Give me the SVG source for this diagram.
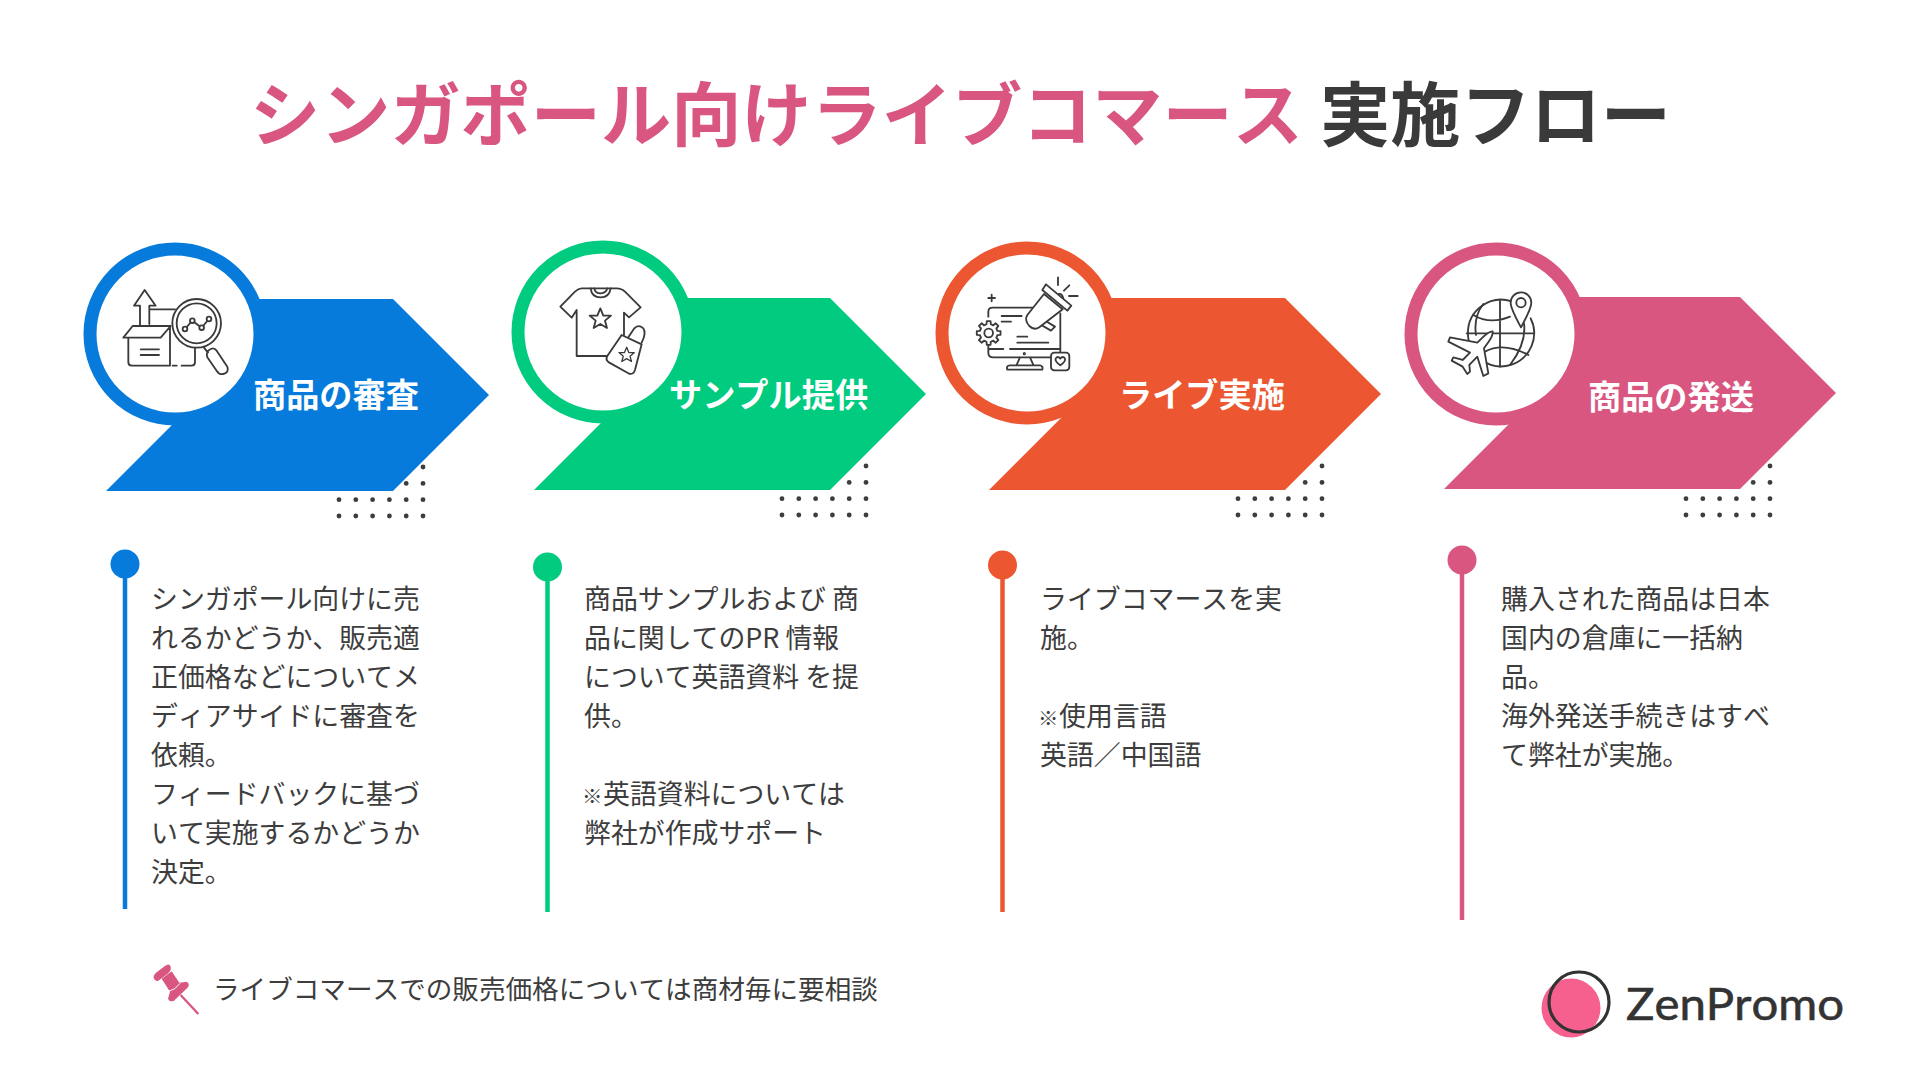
<svg xmlns="http://www.w3.org/2000/svg" width="1920" height="1080" viewBox="0 0 1920 1080">
<style>
text{font-family:"Noto Sans CJK JP","Noto Sans",sans-serif;font-kerning:none}
.t{font-size:70.2px;font-weight:700}
.l{font-size:33.2px;font-weight:700;fill:#fff}
.b{font-size:26.9px;fill:#3d3d3d}
.m{font-size:20.5px;font-weight:700}
.ic{fill:none;stroke:#3a3a3a;stroke-width:5.5;stroke-linecap:round;stroke-linejoin:round}
.ring{fill:#fff;stroke-width:13}
.ln{stroke-width:4.5}
</style>
<defs>
<g id="dots" fill="#3d3d3d">
<circle cx="84" cy="0" r="2.4"/><circle cx="67.2" cy="16.4" r="2.4"/><circle cx="84" cy="16.4" r="2.4"/>
<circle cx="0" cy="32.7" r="2.4"/><circle cx="16.8" cy="32.7" r="2.4"/><circle cx="33.6" cy="32.7" r="2.4"/><circle cx="50.4" cy="32.7" r="2.4"/><circle cx="67.2" cy="32.7" r="2.4"/><circle cx="84" cy="32.7" r="2.4"/>
<circle cx="0" cy="49" r="2.4"/><circle cx="16.8" cy="49" r="2.4"/><circle cx="33.6" cy="49" r="2.4"/><circle cx="50.4" cy="49" r="2.4"/><circle cx="67.2" cy="49" r="2.4"/><circle cx="84" cy="49" r="2.4"/>
</g>
<polygon id="star" points="0,-32 9,-10 32,-10 14,5 20,27 0,15 -20,27 -14,5 -32,-10 -9,-10"/>
</defs>
<rect width="1920" height="1080" fill="#fff"/>
<g id="title">
<text class="t" x="250" y="141" fill="#d95680">シンガポール向けライブコマース</text>
<text class="t" x="1320" y="141" fill="#3a3a3a">実施フロー</text>
</g>

<g id="step1">
<use href="#dots" x="339" y="467"/>
<polygon points="106,491 202,395 230,299 393,299 489,395 393,491" fill="#067bdb"/>
<circle class="ring" cx="175" cy="334" r="85" stroke="#067bdb"/>
<g class="ic" transform="translate(60 220) scale(.3333)">
<path d="M205 355V427Q205 437 215 437H330V323M338 437H350M365 437H395Q405 437 405 427V385M190 353L218 318H332L302 353ZM242 388H297M242 405H297"/>
<path d="M240 316V257H222L254 210L287 257H268V312M268 268H345"/>
<circle cx="410" cy="310" r="73" fill="#fff"/><circle cx="410" cy="310" r="60"/>
<path d="M375 327L397 302L425 323L447 297"/>
<circle cx="375" cy="327" r="7" fill="#fff"/><circle cx="397" cy="302" r="7" fill="#fff"/><circle cx="425" cy="323" r="7" fill="#fff"/><circle cx="447" cy="297" r="7" fill="#fff"/>
<path d="M432 383L444 398M445 392Q460 378 470 392L502 440Q508 458 490 462Q478 465 470 452L442 412Q438 400 445 392Z"/>
</g>
<text class="l" x="253" y="407">商品の審査</text>
</g>

<g id="step2">
<use href="#dots" x="782" y="466"/>
<polygon points="534,490 630,394 660,298 830,298 926,394 830,490" fill="#00cb7f"/>
<circle class="ring" cx="603" cy="332" r="85" stroke="#00cb7f"/>
<g class="ic" transform="translate(500 220) scale(.3333)">
<path d="M325 408H230V270L215 293L181 260L225 215Q235 205 245 205H350Q365 205 375 215L422 262L387 292L372 278V345"/>
<path d="M272 205Q275 232 302 232Q328 232 332 205M283 205Q285 220 302 220Q318 220 322 205"/>
<use href="#star" transform="translate(301 297)"/>
<path d="M365 345L322 408Q315 420 328 428L385 460Q400 466 405 450L425 373Z" fill="#fff"/>
<path d="M385 352L403 325Q415 312 430 325Q440 340 425 368"/>
<use href="#star" transform="translate(380 405) scale(.72)"/>
</g>
<text class="l" x="669" y="407">サンプル提供</text>
</g>

<g id="step3">
<use href="#dots" x="1238" y="466"/>
<polygon points="989,490 1085,394 1100,298 1285,298 1381,394 1285,490" fill="#ec5732"/>
<circle class="ring" cx="1027" cy="333" r="85" stroke="#ec5732"/>
<g class="ic" transform="translate(920 220) scale(.3333)">
<path d="M205 290V275Q205 263 218 263H340M421 280V395M205 375V398Q205 412 220 412H393M205 387H250M270 387H420M300 412L290 435M330 412L340 435M262 449Q258 436 270 436H360Q370 438 367 449ZM245 288H305M245 305H273M292 350H322M292 368H385"/>
<circle cx="313" cy="401" r="2"/>
<polygon fill="#fff" transform="translate(206 339)" points="26.2,-6.5 35.6,-5.6 35.6,5.6 26.2,6.5 23.1,13.9 29.1,21.2 21.2,29.1 13.9,23.1 6.5,26.2 5.6,35.6 -5.6,35.6 -6.5,26.2 -13.9,23.1 -21.2,29.1 -29.1,21.2 -23.1,13.9 -26.2,6.5 -35.6,5.6 -35.6,-5.6 -26.2,-6.5 -23.1,-13.9 -29.1,-21.2 -21.2,-29.1 -13.9,-23.1 -6.5,-26.2 -5.6,-35.6 5.6,-35.6 6.5,-26.2 13.9,-23.1 21.2,-29.1 29.1,-21.2 23.1,-13.9"/>
<circle cx="206" cy="339" r="13"/>
<path d="M205 234H225M215 224V244M414 172V195M448 196L432 212M447 228H473"/>
<path d="M372 300L405 320L393 332L355 310" fill="#fff"/>
<path d="M372 222L322 285Q312 300 328 318Q342 332 358 322L428 268Z" fill="#fff"/>
<path d="M410 225Q425 215 430 235" fill="#fff"/>
<polygon points="367,210 378,193 454,257 442,272" fill="#fff"/>
<rect x="393" y="398" width="55" height="53" rx="10" fill="#fff"/>
<path d="M421 436Q404 424 407 416Q413 406 421 416Q429 406 435 416Q438 424 421 436Z"/>
</g>
<text class="l" x="1119" y="407">ライブ実施</text>
</g>

<g id="step4">
<use href="#dots" x="1686" y="466"/>
<polygon points="1444,489 1540,393 1560,297 1740,297 1836,393 1740,489" fill="#d95680"/>
<circle class="ring" cx="1496" cy="334" r="85" stroke="#d95680"/>
<g class="ic" transform="translate(1390 220) scale(.3333)">
<path d="M365 244A100 100 0 1 0 365 434A100 100 0 0 0 422 295"/>
<path d="M330 240V440M230 340H432M250 285Q300 315 360 290M285 395Q340 365 415 405M280 252Q250 290 258 345M402 310Q410 370 360 435"/>
<path d="M393 322Q362 265 362 248A31 31 0 1 1 424 248Q424 265 393 322Z" fill="#fff"/>
<circle cx="393" cy="248" r="14"/>
<path d="M308 334Q295 335 275 355L262 368L180 352L175 365L240 398L218 420L190 412L185 422L218 440L232 462L240 455L238 435L262 410L280 468L295 460L282 385L296 365Q310 345 308 334Z" fill="#fff"/>
</g>
<text class="l" x="1588" y="409">商品の発送</text>
</g>

<g id="connectors">
<line class="ln" x1="125" y1="564" x2="125" y2="909" stroke="#067bdb"/>
<line class="ln" x1="547.5" y1="567" x2="547.5" y2="912" stroke="#00cb7f"/>
<line class="ln" x1="1002.5" y1="565" x2="1002.5" y2="912" stroke="#ec5732"/>
<line class="ln" x1="1462" y1="560" x2="1462" y2="920" stroke="#d95680"/>
</g>

<g id="desc1">
<circle cx="125" cy="564" r="14.5" fill="#067bdb"/>
<text class="b" x="151" y="609">シンガポール向けに売</text>
<text class="b" x="151" y="648">れるかどうか、販売適</text>
<text class="b" x="151" y="687">正価格などについてメ</text>
<text class="b" x="151" y="726">ディアサイドに審査を</text>
<text class="b" x="151" y="765">依頼。</text>
<text class="b" x="151" y="804">フィードバックに基づ</text>
<text class="b" x="151" y="843">いて実施するかどうか</text>
<text class="b" x="151" y="882">決定。</text>
</g>
<g id="desc2">
<circle cx="547.5" cy="567" r="14.5" fill="#00cb7f"/>
<text class="b" x="584" y="609">商品サンプルおよび 商</text>
<text class="b" x="584" y="648">品に関してのPR 情報</text>
<text class="b" x="584" y="687">について英語資料 を提</text>
<text class="b" x="584" y="726">供。</text>
<text class="b" x="582" y="804"><tspan class="m">※</tspan><tspan x="603">英語資料については</tspan></text>
<text class="b" x="584" y="843">弊社が作成サポート</text>
</g>
<g id="desc3">
<circle cx="1002.5" cy="565" r="14.5" fill="#ec5732"/>
<text class="b" x="1040" y="609">ライブコマースを実</text>
<text class="b" x="1040" y="648">施。</text>
<text class="b" x="1038" y="726"><tspan class="m">※</tspan><tspan x="1059">使用言語</tspan></text>
<text class="b" x="1040" y="765">英語／中国語</text>
</g>
<g id="desc4">
<circle cx="1462" cy="560" r="14.5" fill="#d95680"/>
<text class="b" x="1501" y="609">購入された商品は日本</text>
<text class="b" x="1501" y="648">国内の倉庫に一括納</text>
<text class="b" x="1501" y="687">品。</text>
<text class="b" x="1501" y="726">海外発送手続きはすべ</text>
<text class="b" x="1501" y="765">て弊社が実施。</text>
</g>

<g id="note">
<g transform="translate(130 950) scale(.3333)" fill="#d95680">
<path d="M95 86L125 64L148 98L170 95Q180 100 174 112L132 152Q118 157 114 146L120 125Z"/>
<path d="M75 90Q65 80 78 68L105 48Q118 38 122 50Q125 62 112 72L85 92Q80 94 75 90Z"/>
<path d="M152 135L205 192" stroke="#d95680" stroke-width="7" fill="none"/>
<path d="M116 124Q136 120 150 100" stroke="#fff" stroke-width="3" fill="none"/>
</g>
<text class="b" x="213" y="999" style="font-size:26.6px">ライブコマースでの販売価格については商材毎に要相談</text>
</g>

<g id="logo">
<circle cx="1571" cy="1008" r="29.5" fill="#f5608e"/>
<circle cx="1579" cy="1002" r="30" fill="none" stroke="#333" stroke-width="3.2"/>
<text x="1626" y="1020" textLength="218" lengthAdjust="spacingAndGlyphs" stroke="#333" stroke-width=".6" style="font-family:Lato,'Noto Sans',sans-serif;font-size:44px" fill="#333">ZenPromo</text>
</g>
</svg>
